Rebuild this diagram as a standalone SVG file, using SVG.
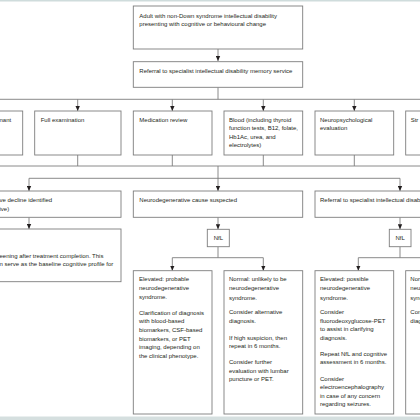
<svg xmlns="http://www.w3.org/2000/svg" width="420" height="420" viewBox="0 0 420 420">
<style>
.b{fill:#fff;stroke:#7d7d7d;stroke-width:0.9}
.c{fill:none;stroke:#7d7d7d;stroke-width:0.9}
.t{font-family:"Liberation Sans",Arial,sans-serif;font-size:6px;fill:#231f20}
</style>
<defs>
<marker id="ah" markerUnits="userSpaceOnUse" markerWidth="5" markerHeight="5" viewBox="0 0 5 5" refX="5" refY="2.5" orient="auto">
<path d="M0 0.3 L5 2.5 L0 4.7 Z" fill="#231f20"/>
</marker>
</defs>
<rect width="420" height="420" fill="#fff"/>
<rect x="0" y="0" width="420" height="1.5" fill="#cfdcdc"/>
<rect x="0" y="416.5" width="420" height="3.5" fill="#d5dfdf"/>

<g id="connectors">
<path class="c" d="M218 49 V61" marker-end="url(#ah)"/>
<path class="c" d="M218 87.3 V99.3 M0 99.3 H420"/>
<path class="c" d="M77.7 99.3 V111" marker-end="url(#ah)"/>
<path class="c" d="M172.3 99.3 V111" marker-end="url(#ah)"/>
<path class="c" d="M263.3 99.3 V111" marker-end="url(#ah)"/>
<path class="c" d="M354.3 99.3 V111" marker-end="url(#ah)"/>
<path class="c" d="M77.7 155 V166 M172.3 155 V166 M263.3 155 V166 M354.3 155 V166 M0 166 H420"/>
<path class="c" d="M218 166 V191" marker-end="url(#ah)"/>
<path class="c" d="M29 178.3 H400"/>
<path class="c" d="M29 178.3 V191" marker-end="url(#ah)"/>
<path class="c" d="M400 178.3 V191" marker-end="url(#ah)"/>
<path class="c" d="M29 217.3 V229" marker-end="url(#ah)"/>
<path class="c" d="M218 217.3 V229.3" marker-end="url(#ah)"/>
<path class="c" d="M218 246.7 V257.7 M172.3 257.7 H263.3"/>
<path class="c" d="M172.3 257.7 V270.7" marker-end="url(#ah)"/>
<path class="c" d="M263.3 257.7 V270.7" marker-end="url(#ah)"/>
<path class="c" d="M400 217.3 V229.3" marker-end="url(#ah)"/>
<path class="c" d="M400 246.7 V257.7 M358.3 257.7 H420"/>
<path class="c" d="M358.3 257.7 V270.7" marker-end="url(#ah)"/>
</g>

<g id="n-adult">
<rect class="b" x="133.3" y="6" width="169.4" height="43"/>
<text class="t" x="139.3" y="17.5">Adult with non-Down syndrome intellectual disability</text>
<text class="t" x="139.3" y="26">presenting with cognitive or behavioural change</text>
</g>
<g id="n-referral">
<rect class="b" x="133.3" y="61.7" width="169.4" height="25.6"/>
<text class="t" x="139.3" y="72.7">Referral to specialist intellectual disability memory service</text>
</g>

<g id="n-informant">
<rect class="b" x="-20" y="111" width="42.7" height="44"/>
<text class="t" x="-0.5" y="122">nant</text>
</g>
<g id="n-exam">
<rect class="b" x="34.7" y="111" width="86.3" height="44"/>
<text class="t" x="40.7" y="122">Full examination</text>
</g>
<g id="n-medication">
<rect class="b" x="133.3" y="111" width="78.7" height="44"/>
<text class="t" x="139.3" y="122">Medication review</text>
</g>
<g id="n-blood">
<rect class="b" x="224" y="111" width="78.7" height="44"/>
<text class="t" x="229" y="121.5">Blood (including thyroid</text>
<text class="t" x="229" y="130">function tests, B12, folate,</text>
<text class="t" x="229" y="138.7">Hb1Ac, urea, and</text>
<text class="t" x="229" y="147.3">electrolytes)</text>
</g>
<g id="n-neuropsych">
<rect class="b" x="315" y="111" width="78.7" height="44"/>
<text class="t" x="320" y="121.5">Neuropsychological</text>
<text class="t" x="320" y="130">evaluation</text>
</g>
<g id="n-str">
<rect class="b" x="405.7" y="111" width="40" height="44"/>
<text class="t" x="410.7" y="122">Str</text>
</g>

<g id="n-decline">
<rect class="b" x="-20" y="191" width="141" height="26.3"/>
<text class="t" x="-0.5" y="202">ve decline identified</text>
<text class="t" x="-0.5" y="210.7">ive)</text>
</g>
<g id="n-neurodeg">
<rect class="b" x="133.3" y="191" width="169.4" height="26.3"/>
<text class="t" x="139.3" y="202">Neurodegenerative cause suspected</text>
</g>
<g id="n-referral2">
<rect class="b" x="315" y="191" width="140" height="26.3"/>
<text class="t" x="320" y="202">Referral to specialist intellectual disabi</text>
</g>

<g id="n-rescreen">
<rect class="b" x="-20" y="229" width="141" height="52.7"/>
<text class="t" x="-0.5" y="258">eening after treatment completion. This</text>
<text class="t" x="-0.5" y="266.3">n serve as the baseline cognitive profile for</text>
</g>
<g id="n-nfl1">
<rect class="b" x="207.3" y="229.3" width="22" height="17.4"/>
<text class="t" x="218.3" y="240" text-anchor="middle">NfL</text>
</g>
<g id="n-nfl2">
<rect class="b" x="389.3" y="229.3" width="21.7" height="17.4"/>
<text class="t" x="400.1" y="240" text-anchor="middle">NfL</text>
</g>

<g id="n-elev1">
<rect class="b" x="133.3" y="270.7" width="78.7" height="143.3"/>
<text class="t" x="139" y="281">Elevated: probable</text>
<text class="t" x="139" y="290">neurodegenerative</text>
<text class="t" x="139" y="299">syndrome.</text>
<text class="t" x="139" y="314.7">Clarification of diagnosis</text>
<text class="t" x="139" y="323.3">with blood-based</text>
<text class="t" x="139" y="332">biomarkers, CSF-based</text>
<text class="t" x="139" y="340.7">biomarkers, or PET</text>
<text class="t" x="139" y="349.3">imaging, depending on</text>
<text class="t" x="139" y="358">the clinical phenotype.</text>
</g>
<g id="n-normal1">
<rect class="b" x="224" y="270.7" width="78.7" height="143.3"/>
<text class="t" x="229" y="281">Normal: unlikely to be</text>
<text class="t" x="229" y="290">neurodegenerative</text>
<text class="t" x="229" y="299.7">syndrome.</text>
<text class="t" x="229" y="314.3">Consider alternative</text>
<text class="t" x="229" y="322.7">diagnosis.</text>
<text class="t" x="229" y="339.7">If high suspicion, then</text>
<text class="t" x="229" y="348">repeat in 6 months.</text>
<text class="t" x="229" y="364">Consider further</text>
<text class="t" x="229" y="373">evaluation with lumbar</text>
<text class="t" x="229" y="381.3">puncture or PET.</text>
</g>
<g id="n-elev2">
<rect class="b" x="315" y="270.7" width="78.7" height="143.3"/>
<text class="t" x="320" y="281">Elevated: possible</text>
<text class="t" x="320" y="290">neurodegenerative</text>
<text class="t" x="320" y="299.7">syndrome.</text>
<text class="t" x="320" y="314.3">Consider</text>
<text class="t" x="320" y="322.7">fluorodeoxyglucose-PET</text>
<text class="t" x="320" y="331.3">to assist in clarifying</text>
<text class="t" x="320" y="339.7">diagnosis.</text>
<text class="t" x="320" y="355.7">Repeat NfL and cognitive</text>
<text class="t" x="320" y="364.3">assessment in 6 months.</text>
<text class="t" x="320" y="380.7">Consider</text>
<text class="t" x="320" y="389">electroencephalography</text>
<text class="t" x="320" y="397.7">in case of any concern</text>
<text class="t" x="320" y="406">regarding seizures.</text>
</g>
<g id="n-normal2">
<rect class="b" x="405.7" y="270.7" width="78.7" height="143.3"/>
<text class="t" x="410.3" y="281">Nor</text>
<text class="t" x="410.3" y="290">neu</text>
<text class="t" x="410.3" y="299.7">sync</text>
<text class="t" x="410.3" y="314.3">Con</text>
<text class="t" x="410.3" y="322.7">diag</text>
</g>
</svg>
